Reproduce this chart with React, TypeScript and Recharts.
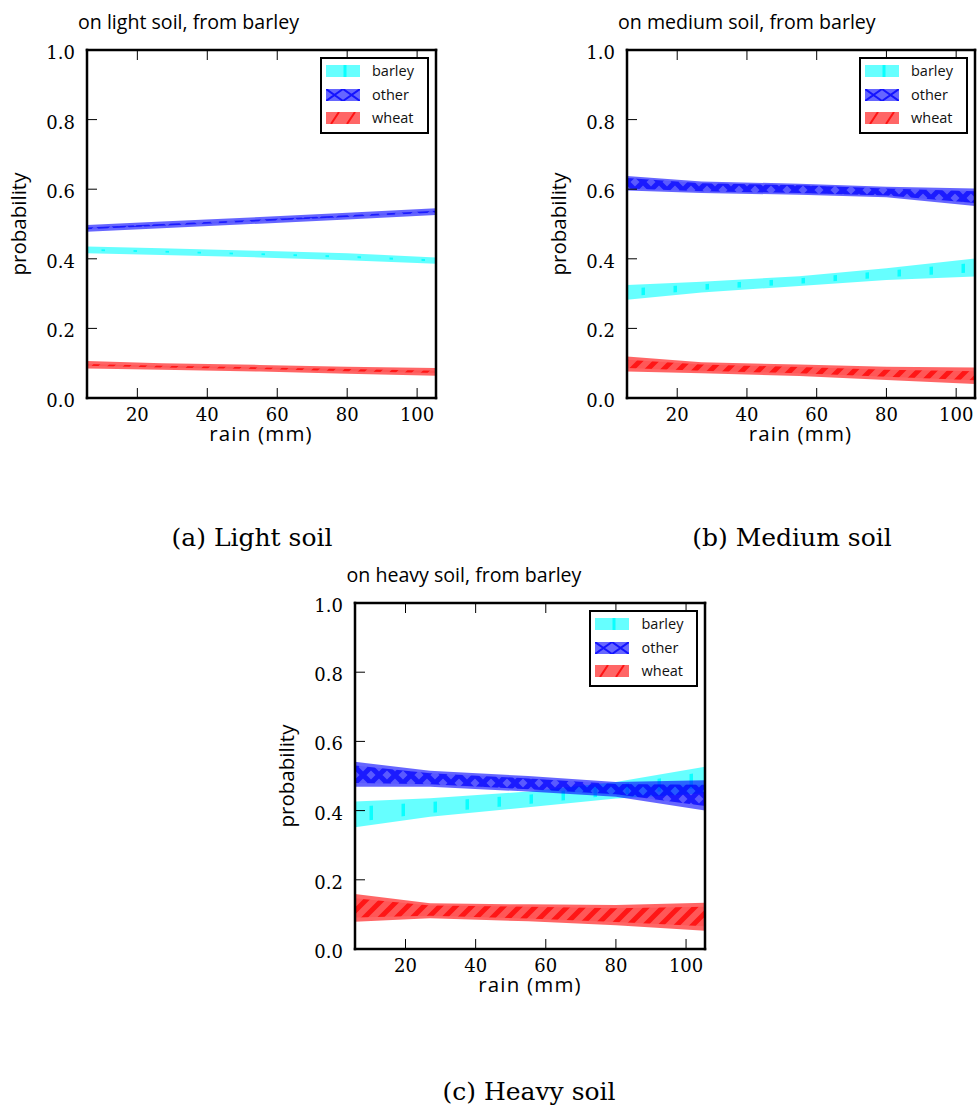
import React from 'react';
import { ComposedChart, Area, XAxis, YAxis, Legend } from 'recharts';

// ---------- data ----------
const rain = [5.6, 27, 55, 80, 105.4];
const seriesNames = ['barley', 'other', 'wheat'];
const xTicks = [20, 40, 60, 80, 100];
const yTicks = [0, 0.2, 0.4, 0.6, 0.8, 1.0];
const yTickLabels = ['0.0', '0.2', '0.4', '0.6', '0.8', '1.0'];
const panelTitles = ['on light soil, from barley', 'on medium soil, from barley', 'on heavy soil, from barley'];
const captions = ['(a) Light soil', '(b) Medium soil', '(c) Heavy soil'];
const xLabel = 'rain (mm)';
const yLabel = 'probability';

// light soil
const lightBarleyLo = [0.416, 0.411, 0.404, 0.396, 0.386];
const lightBarleyHi = [0.435, 0.430, 0.423, 0.416, 0.404];
const lightBarleyInLo = [0.423, 0.418, 0.411, 0.403, 0.392];
const lightBarleyInHi = [0.428, 0.423, 0.416, 0.409, 0.398];
const lightOtherLo = [0.478, 0.488, 0.501, 0.513, 0.526];
const lightOtherHi = [0.497, 0.507, 0.520, 0.532, 0.545];
const lightOtherInLo = [0.485, 0.495, 0.508, 0.520, 0.533];
const lightOtherInHi = [0.490, 0.500, 0.513, 0.525, 0.538];
const lightWheatLo = [0.085, 0.081, 0.076, 0.070, 0.064];
const lightWheatHi = [0.106, 0.100, 0.095, 0.090, 0.086];
const lightWheatInLo = [0.093, 0.088, 0.083, 0.077, 0.072];
const lightWheatInHi = [0.098, 0.093, 0.088, 0.083, 0.078];

// medium soil
const mediumBarleyLo = [0.282, 0.303, 0.322, 0.339, 0.349];
const mediumBarleyHi = [0.325, 0.334, 0.350, 0.373, 0.401];
const mediumBarleyInLo = [0.292, 0.310, 0.328, 0.347, 0.361];
const mediumBarleyInHi = [0.315, 0.327, 0.344, 0.366, 0.389];
const mediumOtherLo = [0.596, 0.589, 0.584, 0.577, 0.552];
const mediumOtherHi = [0.638, 0.622, 0.616, 0.607, 0.602];
const mediumOtherInLo = [0.602, 0.594, 0.589, 0.582, 0.560];
const mediumOtherInHi = [0.632, 0.617, 0.611, 0.602, 0.594];
const mediumWheatLo = [0.076, 0.071, 0.063, 0.052, 0.040];
const mediumWheatHi = [0.119, 0.103, 0.096, 0.090, 0.088];
const mediumWheatInLo = [0.086, 0.078, 0.071, 0.061, 0.051];
const mediumWheatInHi = [0.110, 0.096, 0.089, 0.081, 0.077];

// heavy soil
const heavyBarleyLo = [0.352, 0.382, 0.410, 0.435, 0.450];
const heavyBarleyHi = [0.426, 0.436, 0.455, 0.483, 0.527];
const heavyBarleyInLo = [0.367, 0.393, 0.419, 0.445, 0.466];
const heavyBarleyInHi = [0.411, 0.425, 0.446, 0.474, 0.512];
const heavyOtherLo = [0.469, 0.469, 0.455, 0.440, 0.400];
const heavyOtherHi = [0.541, 0.515, 0.500, 0.483, 0.488];
const heavyOtherInLo = [0.480, 0.476, 0.462, 0.447, 0.413];
const heavyOtherInHi = [0.530, 0.508, 0.493, 0.477, 0.475];
const heavyWheatLo = [0.079, 0.089, 0.080, 0.069, 0.053];
const heavyWheatHi = [0.159, 0.132, 0.129, 0.127, 0.134];
const heavyWheatInLo = [0.091, 0.096, 0.088, 0.078, 0.066];
const heavyWheatInHi = [0.147, 0.126, 0.122, 0.118, 0.122];

const buildRows = (b: number[][], o: number[][], w: number[][]) =>
  rain.map((r, i) => ({
    rain: r,
    barley: [b[0][i], b[1][i]],
    barleyIn: [b[2][i], b[3][i]],
    other: [o[0][i], o[1][i]],
    otherIn: [o[2][i], o[3][i]],
    wheat: [w[0][i], w[1][i]],
    wheatIn: [w[2][i], w[3][i]],
  }));

const lightRows = buildRows(
  [lightBarleyLo, lightBarleyHi, lightBarleyInLo, lightBarleyInHi],
  [lightOtherLo, lightOtherHi, lightOtherInLo, lightOtherInHi],
  [lightWheatLo, lightWheatHi, lightWheatInLo, lightWheatInHi]
);
const mediumRows = buildRows(
  [mediumBarleyLo, mediumBarleyHi, mediumBarleyInLo, mediumBarleyInHi],
  [mediumOtherLo, mediumOtherHi, mediumOtherInLo, mediumOtherInHi],
  [mediumWheatLo, mediumWheatHi, mediumWheatInLo, mediumWheatInHi]
);
const heavyRows = buildRows(
  [heavyBarleyLo, heavyBarleyHi, heavyBarleyInLo, heavyBarleyInHi],
  [heavyOtherLo, heavyOtherHi, heavyOtherInLo, heavyOtherInHi],
  [heavyWheatLo, heavyWheatHi, heavyWheatInLo, heavyWheatInHi]
);

// ---------- style ----------
const COLORS: Record<string, string> = { barley: '#00ffff', other: '#0000ff', wheat: '#ff0000' };
const SANS = '"Open Sans", "DejaVu Sans", sans-serif';
const SERIF = '"DejaVu Serif", serif';
const X_DOMAIN: [number, number] = [5.6, 105.4];

const PADL = 90;
const PADT = 60;
const PADR = 4;
const PADB = 50;
const TICK = 10;

const LeftTick = (props: any) => {
  const { x, y, payload } = props;
  const idx = yTicks.indexOf(payload.value);
  return (
    <g>
      <line x1={x} x2={x + TICK} y1={y} y2={y} stroke="#000" strokeWidth={1} />
      <text x={x - 12} y={y + 9} textAnchor="end" fontFamily={SERIF} fontSize={18} fill="#000">
        {yTickLabels[idx]}
      </text>
    </g>
  );
};
const RightTick = (props: any) => {
  const { x, y } = props;
  return <line x1={x} x2={x - TICK} y1={y} y2={y} stroke="#000" strokeWidth={1} />;
};
const BottomTick = (props: any) => {
  const { x, y, payload } = props;
  return (
    <g>
      <line x1={x} x2={x} y1={y} y2={y - TICK} stroke="#000" strokeWidth={1} />
      <text x={x} y={y + 23} textAnchor="middle" fontFamily={SERIF} fontSize={18} fill="#000">
        {String(payload.value)}
      </text>
    </g>
  );
};
const TopTick = (props: any) => {
  const { x, y } = props;
  return <line x1={x} x2={x} y1={y} y2={y + TICK} stroke="#000" strokeWidth={1} />;
};

const LegendPatch = ({ name }: { name: string }) => {
  const c = COLORS[name];
  return (
    <svg width={34} height={12} style={{ display: 'block' }}>
      <rect x={0} y={0} width={34} height={12} fill={c} fillOpacity={0.6} />
      {name === 'barley' && <rect x={17.5} y={0} width={3} height={12} fill={c} opacity={0.9} />}
      {name === 'other' && (
        <path d="M0,0 L17,12 M0,12 L17,0 M17,0 L34,12 M17,12 L34,0" stroke={c} strokeWidth={2} opacity={0.8} />
      )}
      {name === 'wheat' && <path d="M5,12 L13,0 M21,12 L29,0" stroke={c} strokeWidth={2} opacity={0.8} />}
    </svg>
  );
};

const renderLegend = () => (
  <div
    style={{
      width: 109,
      height: 77,
      boxSizing: 'border-box',
      border: '2px solid #000',
      background: '#fff',
      position: 'relative',
    }}
  >
    {seriesNames.map((n, i) => (
      <div
        key={n}
        style={{ position: 'absolute', left: 4, top: 5 + i * 23.5, height: 14, display: 'flex', alignItems: 'center' }}
      >
        <LegendPatch name={n} />
        <span style={{ marginLeft: 12.5, fontFamily: SANS, fontSize: 14.5, lineHeight: '14px', color: '#111' }}>{n}</span>
      </div>
    ))}
  </div>
);

type PanelProps = {
  id: string;
  rows: any[];
  plotLeft: number;
  plotTop: number;
  plotW: number;
  plotH: number;
};

const Panel = ({ id, rows, plotLeft, plotTop, plotW, plotH }: PanelProps) => {
  const W = PADL + plotW + PADR;
  const H = PADT + plotH + PADB;
  const axisLine = { stroke: '#000', strokeWidth: 2.5, strokeLinecap: 'square' as const };
  return (
    <div style={{ position: 'absolute', left: plotLeft - PADL, top: plotTop - PADT, width: W, height: H }}>
      <ComposedChart
        width={W}
        height={H}
        data={rows}
        margin={{ top: PADT - 1, left: PADL - 1, right: PADR - 1, bottom: PADB - 1 }}
      >
        <defs>
          <pattern id={`hatch-barley-${id}`} patternUnits="userSpaceOnUse" x={PADL} y={0} width={32} height={8}>
            <rect x={14.5} y={0} width={3.5} height={8} fill="#00ffff" opacity={0.9} />
          </pattern>
          <pattern id={`hatch-other-${id}`} patternUnits="userSpaceOnUse" x={PADL} y={0} width={16} height={16}>
            <rect x={0} y={0} width={16} height={16} fill="#0000ff" opacity={0.12} />
            <path
              d="M0,0 L16,16 M-4,12 L4,20 M12,-4 L20,4 M16,0 L0,16 M-4,4 L4,-4 M12,20 L20,12"
              stroke="#0000ff"
              strokeWidth={5}
              opacity={0.7}
            />
          </pattern>
          <pattern id={`hatch-wheat-${id}`} patternUnits="userSpaceOnUse" x={PADL} y={0} width={16} height={16}>
            <rect x={0} y={0} width={16} height={16} fill="#ff0000" opacity={0.15} />
            <path d="M0,16 L16,0 M-4,4 L4,-4 M12,20 L20,12" stroke="#ff0000" strokeWidth={5} opacity={0.75} />
          </pattern>
        </defs>
        <XAxis
          xAxisId="b"
          orientation="bottom"
          type="number"
          dataKey="rain"
          domain={X_DOMAIN}
          allowDataOverflow
          ticks={xTicks}
          interval={0}
          height={1}
          tickSize={0}
          tickMargin={0}
          tickLine={false}
          axisLine={axisLine}
          tick={BottomTick}
        />
        <XAxis
          xAxisId="t"
          orientation="top"
          type="number"
          dataKey="rain"
          domain={X_DOMAIN}
          allowDataOverflow
          ticks={xTicks}
          interval={0}
          height={1}
          tickSize={0}
          tickMargin={0}
          tickLine={false}
          axisLine={axisLine}
          tick={TopTick}
        />
        <YAxis
          yAxisId="l"
          orientation="left"
          type="number"
          domain={[0, 1]}
          ticks={yTicks}
          interval={0}
          width={1}
          tickSize={0}
          tickMargin={0}
          tickLine={false}
          axisLine={axisLine}
          tick={LeftTick}
        />
        <YAxis
          yAxisId="r"
          orientation="right"
          type="number"
          domain={[0, 1]}
          ticks={yTicks}
          interval={0}
          width={1}
          tickSize={0}
          tickMargin={0}
          tickLine={false}
          axisLine={axisLine}
          tick={RightTick}
        />
        {seriesNames.flatMap((n) => [
          <Area
            key={`${n}-outer`}
            xAxisId="b"
            yAxisId="l"
            type="linear"
            dataKey={n}
            stroke="none"
            fill={COLORS[n]}
            fillOpacity={0.6}
            isAnimationActive={false}
            dot={false}
            activeDot={false}
            legendType="none"
          />,
          <Area
            key={`${n}-inner`}
            xAxisId="b"
            yAxisId="l"
            type="linear"
            dataKey={`${n}In`}
            stroke="none"
            fill={`url(#hatch-${n}-${id})`}
            fillOpacity={1}
            isAnimationActive={false}
            dot={false}
            activeDot={false}
            legendType="none"
          />,
        ])}
        <Legend
          layout="vertical"
          align="center"
          verticalAlign="middle"
          content={renderLegend}
          wrapperStyle={{ top: PADT + 7, left: PADL + plotW - 7 - 109, width: 109, height: 77 }}
        />
      </ComposedChart>
    </div>
  );
};

const panels = [
  { id: 'a', rows: lightRows, plotLeft: 86.5, plotTop: 50, plotW: 349, plotH: 348, capX: 252, capY: 546 },
  { id: 'b', rows: mediumRows, plotLeft: 626.5, plotTop: 50, plotW: 348, plotH: 348, capX: 792, capY: 546 },
  { id: 'c', rows: heavyRows, plotLeft: 355, plotTop: 603, plotW: 350, plotH: 346, capX: 529, capY: 1100 },
];

export default function App() {
  return (
    <div style={{ position: 'absolute', left: 0, top: 0, width: 979, height: 1108, background: '#fff', overflow: 'hidden' }}>
      {panels.map((p) => (
        <Panel key={p.id} id={p.id} rows={p.rows} plotLeft={p.plotLeft} plotTop={p.plotTop} plotW={p.plotW} plotH={p.plotH} />
      ))}
      <svg
        width={979}
        height={1108}
        style={{ position: 'absolute', left: 0, top: 0, pointerEvents: 'none' }}
      >
        {panels.map((p, i) => {
          const cx = p.plotLeft + p.plotW / 2;
          const cy = p.plotTop + p.plotH / 2;
          const ylx = p.plotLeft - 61;
          return (
            <g key={p.id}>
              <text x={p.plotLeft - 8.5} y={p.plotTop - 21} fontFamily={SANS} fontSize={19.6} fill="#000">
                {panelTitles[i]}
              </text>
              <text
                x={ylx}
                y={cy}
                transform={`rotate(-90, ${ylx}, ${cy})`}
                textAnchor="middle"
                fontFamily={SANS}
                fontSize={20.5}
                fill="#000"
              >
                {yLabel}
              </text>
              <text
                x={cx}
                y={p.plotTop + p.plotH + 43}
                textAnchor="middle"
                fontFamily={SANS}
                fontSize={20.5}
                letterSpacing={1.2}
                fill="#000"
              >
                {xLabel}
              </text>
              <text x={p.capX} y={p.capY} textAnchor="middle" fontFamily={SERIF} fontSize={25} fill="#000">
                {captions[i]}
              </text>
            </g>
          );
        })}
      </svg>
    </div>
  );
}
